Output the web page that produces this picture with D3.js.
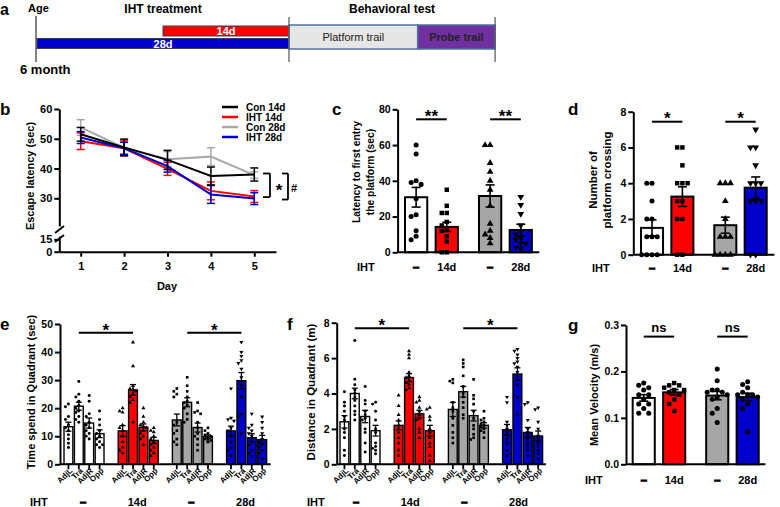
<!DOCTYPE html>
<html>
<head>
<meta charset="utf-8">
<script src="https://cdn.jsdelivr.net/npm/d3@7"></script>
<style>
html,body{margin:0;padding:0;background:#fff;}
svg{display:block;background:#fff;}
svg text{font-family:'Liberation Sans',Arial,Helvetica,sans-serif;}
</style>
</head>
<body>
<svg id="fig" width="780" height="507"></svg>
<script>
// ================= DATA =================
// panel a: timeline (days)
const treatLabels = ["28d", "14d"];
const treatStart = [0, 14];
const treatEnd = [28, 28];
const testLabels = ["Platform trail", "Probe trail"];
const testStart = [28, 42.3];
const testEnd = [42.3, 50.9];

// panel b: escape latency
const days = [1, 2, 3, 4, 5];
const seriesNames = ["Con 14d", "IHT 14d", "Con 28d", "IHT 28d"];
const latCon14 = [51.5, 47.1, 42.9, 37.5, 38.0];
const latIHT14 = [49.2, 46.8, 39.9, 32.5, 30.6];
const latCon28 = [53.8, 47.0, 43.1, 44.0, 37.8];
const latIHT28 = [50.4, 46.8, 40.8, 31.3, 29.9];
const semCon14 = [2.3, 2.8, 3.2, 3.0, 2.2];
const semIHT14 = [2.8, 2.5, 2.2, 3.0, 2.0];
const semCon28 = [2.6, 2.6, 2.6, 3.0, 1.1];
const semIHT28 = [2.0, 2.0, 2.0, 3.0, 2.0];
const bTicksUpper = [30, 40, 50, 60];
const bTicksLower = [0, 15];

// groups for c, d, e, f, g
const groups = ["Con 14d", "IHT 14d", "Con 28d", "IHT 28d"];
const ihtRow = ["–", "14d", "–", "28d"];
const quadrants = ["AdjL", "Tra", "AdjR", "Opp"];

// panel c: latency to first entry (sec)
const cMeans = [30.8, 14.2, 31.5, 12.5];
const cSems = [5.5, 2.6, 6.2, 3.2];
const cPtsCon14 = [60, 55, 40, 39, 38, 30, 21, 20, 12, 9, 7];
const cPtsIHT14 = [35, 26, 22, 22, 17, 15, 13, 12, 9, 6, 0, 0];
const cPtsCon28 = [60, 60, 50, 45, 40, 35, 26, 16, 12, 10, 8, 5];
const cPtsIHT28 = [31, 26.5, 21.5, 15, 12, 10, 8, 7, 5, 5, 3, 2];
const cTicks = [0, 20, 40, 60, 80];

// panel d: number of platform crossing
const dMeans = [1.5, 3.25, 1.65, 3.75];
const dSems = [0.45, 0.55, 0.45, 0.6];
const dPtsCon14 = [4, 4, 3, 2, 2, 1, 1, 1, 0, 0, 0, 0];
const dPtsIHT14 = [6, 6, 5, 4, 4, 4, 3, 3, 2, 2, 0, 0];
const dPtsCon28 = [4, 4, 4, 3, 2, 1, 1, 1, 0, 0, 0, 0];
const dPtsIHT28 = [7, 6, 6, 5, 4, 4, 4, 3, 3, 3, 0, 0];
const dTicks = [0, 2, 4, 6, 8];

// panel e: time spent in quadrant (sec)  [AdjL, Tra, AdjR, Opp]
const eMeanCon14 = [13.4, 20.7, 14.7, 10.9];
const eMeanIHT14 = [11.9, 26.5, 13.2, 8.5];
const eMeanCon28 = [15.8, 22.1, 13.1, 9.9];
const eMeanIHT28 = [11.9, 29.8, 9.5, 8.8];
const eSemCon14 = [1.6, 1.4, 1.8, 1.4];
const eSemIHT14 = [1.9, 1.9, 1.2, 1.1];
const eSemCon28 = [2.1, 1.6, 1.6, 0.6];
const eSemIHT28 = [1.7, 2.9, 1.4, 1.5];
const ePtsCon14 = [[21.5, 20.5, 17, 16, 14, 13, 12, 10.5, 9, 7.5, 6],
                   [29.5, 25, 24, 22.5, 21, 20, 19, 18.5, 17, 16, 15],
                   [24.5, 22.5, 18, 17, 15, 14, 13, 12, 11, 10, 9],
                   [19, 16, 14, 12, 11, 10, 9, 8, 7, 6, 7]];
const ePtsIHT14 = [[20, 19, 18.5, 14, 13, 12, 10, 8, 6, 5, 4],
                   [43.5, 35, 28, 27, 26.5, 26, 25, 24, 23, 22, 15],
                   [20, 17, 15, 14, 13.5, 13, 12, 11, 10, 9, 7],
                   [13, 12, 11.5, 10, 9, 8, 7, 6, 5, 4, 3]];
const ePtsCon28 = [[27, 26, 25, 24, 15, 14, 12, 11, 9, 8, 7],
                   [31, 28, 26, 24, 22.5, 22, 21, 20, 18, 16, 15],
                   [22, 19, 18.5, 18, 15, 13, 11, 10, 9, 7, 5],
                   [13, 12, 11, 10.5, 10, 9.5, 9, 9, 8.5, 8, 8]];
const ePtsIHT28 = [[27, 16.5, 16, 15.5, 13, 12, 10, 8, 6, 5, 3],
                   [43.5, 40, 38.5, 37, 36, 34, 31, 28, 24, 18, 11, 17],
                   [18, 14, 13, 12, 11, 10, 8, 7, 5, 4, 3],
                   [17, 15, 13, 11, 9, 8, 7, 6, 5, 4, 2]];
const eTicks = [0, 10, 20, 30, 40, 50];

// panel f: distance in quadrant (m)
const fMeanCon14 = [2.4, 4.0, 2.7, 1.9];
const fMeanIHT14 = [2.2, 4.9, 2.85, 1.9];
const fMeanCon28 = [3.1, 4.1, 2.75, 2.2];
const fMeanIHT28 = [1.95, 5.1, 1.8, 1.6];
const fSemCon14 = [0.35, 0.3, 0.35, 0.3];
const fSemIHT14 = [0.25, 0.22, 0.2, 0.3];
const fSemCon28 = [0.4, 0.3, 0.3, 0.15];
const fSemIHT28 = [0.3, 0.35, 0.28, 0.28];
const fPtsCon14 = [[4.1, 3.5, 3.3, 3.0, 2.7, 2.5, 2.0, 1.8, 1.5, 0.8, 0.5],
                   [7.0, 4.8, 4.5, 4.2, 4.0, 3.8, 3.6, 3.3, 3.0, 2.8, 2.5],
                   [4.4, 3.6, 3.4, 3.0, 2.8, 2.6, 2.5, 2.0, 1.8, 1.2, 0.7],
                   [3.5, 3.4, 3.0, 2.5, 2.0, 1.8, 1.2, 1.0, 0.9, 0.8, 0.6]];
const fPtsIHT14 = [[3.9, 3.3, 2.8, 2.5, 2.2, 2.0, 1.8, 1.5, 1.2, 0.8, 0.5],
                   [6.4, 6.2, 6.0, 5.2, 5.0, 4.9, 4.7, 4.6, 4.5, 4.3, 4.2],
                   [3.8, 3.6, 3.5, 3.2, 3.0, 2.8, 2.6, 2.5, 2.0, 1.8, 1.5],
                   [3.2, 3.1, 2.7, 2.5, 2.0, 1.8, 1.5, 1.2, 1.0, 0.5, 0.2]];
const fPtsCon28 = [[4.8, 4.7, 4.6, 3.5, 3.2, 3.0, 2.6, 2.2, 1.8, 1.5, 1.2],
                   [5.9, 5.7, 5.5, 5.0, 4.4, 4.0, 3.8, 3.5, 3.2, 2.8, 2.6],
                   [4.8, 3.9, 3.7, 3.4, 3.0, 2.6, 2.2, 2.0, 1.7, 1.5, 1.4],
                   [3.0, 2.6, 2.5, 2.4, 2.3, 2.2, 2.1, 2.0, 1.9, 1.8, 1.5]];
const fPtsIHT28 = [[3.8, 3.5, 2.4, 2.2, 2.0, 1.8, 1.6, 1.4, 1.2, 0.8, 0.5],
                   [6.5, 6.4, 6.2, 6.0, 5.8, 5.7, 5.5, 5.2, 4.5, 3.8, 2.8],
                   [3.5, 3.4, 2.5, 2.0, 1.8, 1.6, 1.4, 1.2, 1.0, 0.8, 0.5],
                   [3.2, 3.1, 2.4, 2.0, 1.6, 1.4, 1.2, 1.0, 0.8, 0.6, 0.3]];
const fTicks = [0, 2, 4, 6, 8];

// panel g: mean velocity (m/s)
const gMeans = [0.143, 0.155, 0.148, 0.145];
const gSems = [0.007, 0.006, 0.009, 0.008];
const gPtsCon14 = [0.17, 0.165, 0.16, 0.175, 0.15, 0.14, 0.13, 0.12, 0.11, 0.11, 0.13, 0.15];
const gPtsIHT14 = [0.175, 0.17, 0.17, 0.165, 0.16, 0.16, 0.155, 0.15, 0.14, 0.13, 0.115];
const gPtsCon28 = [0.205, 0.18, 0.16, 0.16, 0.155, 0.15, 0.145, 0.14, 0.12, 0.11, 0.09, 0.155];
const gPtsIHT28 = [0.178, 0.172, 0.165, 0.155, 0.15, 0.15, 0.145, 0.14, 0.13, 0.12, 0.07, 0.15];
const gTicks = [0, 0.1, 0.2, 0.3];

// ================= STYLE =================
const barFills = ["#ffffff", "#ff0000", "#a6a6a6", "#0000cd"];
const lineColors = ["#000000", "#ff0000", "#a9a9a9", "#0000cd"];

const svg = d3.select("#fig");

function T(sel, x, y, s, size, anchor = "start", weight = "bold", fill = "#000") {
  return sel.append("text").attr("x", x).attr("y", y).attr("font-size", size)
    .attr("font-weight", weight).attr("text-anchor", anchor).attr("fill", fill).text(s);
}
function L(sel, x1, y1, x2, y2, w = 2, c = "#000") {
  return sel.append("line").attr("x1", x1).attr("y1", y1).attr("x2", x2).attr("y2", y2)
    .attr("stroke", c).attr("stroke-width", w);
}
function VT(sel, x, cy, s, size) {
  return sel.append("text").attr("transform", `translate(${x},${cy}) rotate(-90)`)
    .attr("text-anchor", "middle").attr("font-size", size).attr("font-weight", "bold").text(s);
}
function styleAxis(g, fs) {
  g.attr("font-size", fs).attr("font-weight", "bold");
  g.select(".domain").attr("stroke", "#000").attr("stroke-width", 2);
  g.selectAll(".tick line").attr("stroke", "#000").attr("stroke-width", 2);
  g.selectAll(".tick text").attr("fill", "#000");
}
function sym(g, shape, x, y, size) {
  const type = shape === "circle" ? d3.symbolCircle : shape === "square" ? d3.symbolSquare : d3.symbolTriangle;
  g.append("path").attr("d", d3.symbol().type(type).size(size)())
    .attr("transform", `translate(${x},${y}) rotate(${shape === "invtri" ? 180 : 0})`)
    .attr("fill", "#000");
}
function swarm(vals, y, gap, maxOff) {
  const pts = vals.map(v => ({ v, py: y(v) })).sort((a, b) => a.py - b.py);
  const placed = [];
  pts.forEach(p => {
    let best = 0;
    for (let k = 0; k < 14; k++) {
      const off = k === 0 ? 0 : (k % 2 ? -1 : 1) * Math.ceil(k / 2) * gap;
      if (Math.abs(off) > maxOff) continue;
      const hit = placed.some(q => Math.abs(q.off - off) < gap * 0.95 && Math.abs(q.py - p.py) < gap * 0.95);
      if (!hit) { best = off; break; }
    }
    p.off = best; placed.push(p);
  });
  return pts;
}
function errBar(g, x, yA, yB, cap, w) {
  L(g, x, yA, x, yB, w);
  L(g, x - cap, yA, x + cap, yA, w);
  L(g, x - cap, yB, x + cap, yB, w);
}
function dashLabel(g, x, y, s, size) {
  const t = T(g, x, y, s, size, "middle");
  if (s === "–") t.attr("stroke", "#000").attr("stroke-width", 1.1);
  return t;
}

// ================= PANEL a =================
(function () {
  const g = svg.append("g");
  const xa = d3.scaleLinear().domain([0, 28]).range([37, 289]);
  T(g, 0, 15, "a", 16);
  T(g, 28, 12, "Age", 11);
  T(g, (xa(0) + xa(28)) / 2, 13, "IHT treatment", 12, "middle");
  T(g, (xa(testStart[0]) + xa(testEnd[1])) / 2, 13, "Behavioral test", 12, "middle");
  // treatment bars
  const barY = [38.5, 26];
  const barCol = ["#0000cd", "#ff0000"];
  treatLabels.forEach((lab, i) => {
    g.append("rect").attr("x", xa(treatStart[i])).attr("y", barY[i])
      .attr("width", xa(treatEnd[i]) - xa(treatStart[i])).attr("height", 10)
      .attr("fill", barCol[i]).attr("stroke", "#3a3a5a").attr("stroke-width", 1);
    T(g, (xa(treatStart[i]) + xa(treatEnd[i])) / 2, barY[i] + 9.3, lab, 11, "middle", "bold", "#fff");
  });
  // test phases
  const phFill = ["#e6e6e6", "#7030a0"];
  testLabels.forEach((lab, i) => {
    g.append("rect").attr("x", xa(testStart[i])).attr("y", 25)
      .attr("width", xa(testEnd[i]) - xa(testStart[i])).attr("height", 24)
      .attr("fill", phFill[i]).attr("stroke", "#50709f").attr("stroke-width", 1.5);
    T(g, (xa(testStart[i]) + xa(testEnd[i])) / 2, 41, lab, 11, "middle", i === 0 ? "normal" : "bold", "#222");
  });
  // vertical markers
  L(g, xa(0) - 1, 16, xa(0) - 1, 62, 1.2, "#333");
  L(g, xa(28), 17, xa(28), 62, 1.2, "#555");
  L(g, xa(testEnd[1]), 17, xa(testEnd[1]), 62, 1.2, "#555");
  T(g, 20, 74, "6 month", 13);
})();

// ================= PANEL b =================
(function () {
  const g = svg.append("g");
  const xb = d3.scaleLinear().domain([0.5, 5.5]).range([59, 276]);
  const yU = d3.scaleLinear().domain([20.7, 60]).range([226, 109]);
  const yL = d3.scaleLinear().domain([0, 19]).range([251.7, 236]);
  T(g, 0, 115, "b", 17);

  const series = [latCon14, latIHT14, latCon28, latIHT28];
  const sems = [semCon14, semIHT14, semCon28, semIHT28];
  const order = [2, 1, 3, 0];
  const line = d3.line().x((d, i) => xb(days[i])).y(d => yU(d));
  order.forEach(s => {
    g.append("path").attr("d", line(series[s])).attr("fill", "none")
      .attr("stroke", lineColors[s]).attr("stroke-width", 2);
    series[s].forEach((v, i) => {
      const x = xb(days[i]);
      const a = yU(v - sems[s][i]), b = yU(v + sems[s][i]);
      L(g, x, a, x, b, 1.5, lineColors[s]);
      L(g, x - 4, a, x + 4, a, 1.5, lineColors[s]);
      L(g, x - 4, b, x + 4, b, 1.5, lineColors[s]);
    });
  });

  // axes
  const ayU = g.append("g").attr("transform", "translate(59.3,0)")
    .call(d3.axisLeft(yU).tickValues(bTicksUpper).tickSize(5).tickPadding(2).tickSizeOuter(0));
  styleAxis(ayU, 11);
  const ayL = g.append("g").attr("transform", "translate(59.3,0)")
    .call(d3.axisLeft(yL).tickValues(bTicksLower).tickSize(5).tickPadding(2).tickSizeOuter(0));
  styleAxis(ayL, 11);
  // break marks
  L(g, 55, 233, 64, 226, 1.8);
  L(g, 55, 242, 64, 235, 1.8);
  const ax = g.append("g").attr("transform", "translate(0,251.7)")
    .call(d3.axisBottom(xb).tickValues(days).tickFormat(d3.format("d")).tickSize(5).tickPadding(6).tickSizeOuter(0));
  styleAxis(ax, 11);
  T(g, 167, 290, "Day", 11, "middle");
  VT(g, 34, 176, "Escape latency (sec)", 11);

  // legend
  const rows = [107, 117, 127, 137];
  seriesNames.forEach((n, i) => {
    L(g, 222, rows[i], 238, rows[i], 2.5, lineColors[i]);
    T(g, 246, rows[i] + 3.6, n, 10);
  });

  // significance brackets
  const b1 = [yU(38.0) - 1, yU(30.4)];
  L(g, 263, b1[0], 270, b1[0], 1.8); L(g, 270, b1[0], 270, b1[1], 1.8); L(g, 263, b1[1], 270, b1[1], 1.8);
  T(g, 279, 196, "*", 17, "middle");
  const b2 = [b1[0], yU(29.6)];
  L(g, 282, b2[0], 288, b2[0], 1.8); L(g, 288, b2[0], 288, b2[1], 1.8); L(g, 282, b2[1], 288, b2[1], 1.8);
  T(g, 291, 192, "#", 11);
})();

// ================= PANELS c, d, g =================
function barPanel(p) {
  const g = svg.append("g");
  const y = d3.scaleLinear().domain(p.yDomain).range(p.yRange);
  const xo = d3.scaleBand().domain(["14d", "28d"]).range([p.x0, p.x1]).paddingInner(0.285).paddingOuter(p.outer);
  const xi = d3.scaleBand().domain(["con", "iht"]).range([0, xo.bandwidth()]).paddingInner(0.274);
  const bw = xi.bandwidth();
  const left = i => xo(i < 2 ? "14d" : "28d") + xi(i % 2 ? "iht" : "con");
  const cx = i => left(i) + bw / 2;
  const y0 = y(0);
  groups.forEach((n, i) => {
    g.append("rect").attr("x", left(i)).attr("y", y(p.means[i])).attr("width", bw)
      .attr("height", y0 - y(p.means[i])).attr("fill", barFills[i])
      .attr("stroke", "#000").attr("stroke-width", 2);
  });
  groups.forEach((n, i) => {
    swarm(p.points[i], y, p.gap, bw / 2).forEach(pt => sym(g, p.shapes[i], cx(i) + pt.off, pt.py, p.msize));
  });
  groups.forEach((n, i) => {
    errBar(g, cx(i), y(p.means[i] - p.sems[i]), y(p.means[i] + p.sems[i]), 4.5, 1.6);
  });
  L(g, p.x0, y0, p.x1, y0, 2);
  const ay = g.append("g").attr("transform", `translate(${p.x0},0)`)
    .call(d3.axisLeft(y).tickValues(p.ticks).tickFormat(p.fmt).tickSize(5).tickPadding(2).tickSizeOuter(0));
  styleAxis(ay, 10.5);
  // significance
  [[0, 1], [2, 3]].forEach(([a, b]) => {
    const ly = y(p.sigVal);
    L(g, cx(a), ly, cx(b), ly, 2);
    if (p.sig === "ns") T(g, (cx(a) + cx(b)) / 2, ly - 5, "ns", 13, "middle");
    else T(g, (cx(a) + cx(b)) / 2, ly + 2.5, p.sig, 17, "middle");
  });
  // x labels
  T(g, p.ihtX, p.ihtY, "IHT", 11);
  groups.forEach((n, i) => dashLabel(g, cx(i), p.ihtY, ihtRow[i], 11));
  // titles
  p.title.forEach((t, k) => VT(g, p.titleX[k], p.titleY, t, p.titleSize));
  T(g, p.letterX, p.letterY, p.letter, 17);
}

barPanel({
  letter: "c", letterX: 332, letterY: 115,
  x0: 397.6, x1: 539.3, outer: 0.1,
  yDomain: [0, 80], yRange: [252.3, 109.3], ticks: cTicks, fmt: d3.format("d"),
  means: cMeans, sems: cSems, points: [cPtsCon14, cPtsIHT14, cPtsCon28, cPtsIHT28],
  shapes: ["circle", "square", "triangle", "invtri"], gap: 5, msize: 20,
  sig: "**", sigVal: 74.4,
  ihtX: 357, ihtY: 271,
  title: ["Latency to first entry", "the platform (sec)"], titleX: [360, 374], titleY: 172, titleSize: 10.3
});
barPanel({
  letter: "d", letterX: 568, letterY: 115,
  x0: 633.3, x1: 774.4, outer: 0.105,
  yDomain: [0, 8], yRange: [254.7, 111.7], ticks: dTicks, fmt: d3.format("d"),
  means: dMeans, sems: dSems, points: [dPtsCon14, dPtsIHT14, dPtsCon28, dPtsIHT28],
  shapes: ["circle", "square", "triangle", "invtri"], gap: 5.2, msize: 20,
  sig: "*", sigVal: 7.44,
  ihtX: 592, ihtY: 272,
  title: ["Number of", "platform crossing"], titleX: [597, 611], titleY: 180, titleSize: 11.5
});
barPanel({
  letter: "g", letterX: 568, letterY: 331,
  x0: 626, x1: 765.4, outer: 0.091,
  yDomain: [0, 0.3], yRange: [464.3, 325], ticks: gTicks, fmt: d3.format(".1f"),
  means: gMeans, sems: gSems, points: [gPtsCon14, gPtsIHT14, gPtsCon28, gPtsIHT28],
  shapes: ["circle", "square", "circle", "circle"], gap: 5, msize: 20,
  sig: "ns", sigVal: 0.275,
  ihtX: 585, ihtY: 484,
  title: ["Mean Velocity (m/s)"], titleX: [598], titleY: 395, titleSize: 11
});

// ================= PANELS e, f =================
function quadPanel(p) {
  const g = svg.append("g");
  const y = d3.scaleLinear().domain(p.yDomain).range(p.yRange);
  const xo = d3.scaleBand().domain(groups).range([p.x0, p.x1]).paddingInner(0.262).paddingOuter(p.outer);
  const xi = d3.scaleBand().domain(quadrants).range([0, xo.bandwidth()]).paddingInner(0.15);
  const bw = xi.bandwidth();
  const left = (gi, qi) => xo(groups[gi]) + xi(quadrants[qi]);
  const cx = (gi, qi) => left(gi, qi) + bw / 2;
  const y0 = y(0);
  groups.forEach((n, gi) => quadrants.forEach((q, qi) => {
    const m = p.means[gi][qi];
    g.append("rect").attr("x", left(gi, qi)).attr("y", y(m)).attr("width", bw)
      .attr("height", y0 - y(m)).attr("fill", barFills[gi])
      .attr("stroke", "#000").attr("stroke-width", 1.4);
  }));
  groups.forEach((n, gi) => quadrants.forEach((q, qi) => {
    swarm(p.points[gi][qi], y, 3, bw / 2).forEach(pt => sym(g, p.shapes[gi], cx(gi, qi) + pt.off, pt.py, 7));
  }));
  groups.forEach((n, gi) => quadrants.forEach((q, qi) => {
    const m = p.means[gi][qi], s = p.sems[gi][qi];
    errBar(g, cx(gi, qi), y(m - s), y(m + s), 3, 1.3);
  }));
  // x axis, ticks, rotated labels
  L(g, p.x0, y0, p.x1, y0, 2);
  groups.forEach((n, gi) => quadrants.forEach((q, qi) => {
    const x = cx(gi, qi);
    L(g, x, y0, x, y0 + 5, 1.8);
    g.append("text").attr("transform", `translate(${x + 4.5},${y0 + 7}) rotate(-45)`)
      .attr("text-anchor", "end").attr("font-size", 8).attr("font-weight", "bold").text(q);
  }));
  const ay = g.append("g").attr("transform", `translate(${p.x0},0)`)
    .call(d3.axisLeft(y).tickValues(p.ticks).tickSize(5).tickPadding(2).tickSizeOuter(0));
  styleAxis(ay, 10.5);
  // significance: Tra of control vs Tra of IHT
  [[0, 1], [2, 3]].forEach(([a, b]) => {
    const ly = y(p.sigVal);
    L(g, cx(a, 1), ly, cx(b, 1), ly, 2);
    T(g, (cx(a, 1) + cx(b, 1)) / 2, ly + 3, "*", 17, "middle");
  });
  // group labels
  T(g, p.ihtX, 506, "IHT", 11);
  groups.forEach((n, gi) => dashLabel(g, xo(n) + xo.bandwidth() / 2 + p.labDx, 506, ihtRow[gi], 11));
  VT(g, p.titleX, p.titleY, p.title, p.titleSize);
  T(g, p.letterX, p.letterY, p.letter, 17);
}

quadPanel({
  letter: "e", letterX: 0, letterY: 330,
  x0: 60, x1: 270.6, outer: 0.074,
  yDomain: [0, 50], yRange: [464.3, 324], ticks: eTicks,
  means: [eMeanCon14, eMeanIHT14, eMeanCon28, eMeanIHT28],
  sems: [eSemCon14, eSemIHT14, eSemCon28, eSemIHT28],
  points: [ePtsCon14, ePtsIHT14, ePtsCon28, ePtsIHT28],
  shapes: ["circle", "triangle", "square", "invtri"],
  sigVal: 46.9, ihtX: 30, labDx: -1,
  title: "Time spend in Quadrant (sec)", titleX: 35, titleY: 392, titleSize: 11
});
quadPanel({
  letter: "f", letterX: 287, letterY: 330,
  x0: 336.7, x1: 545.9, outer: 0.061,
  yDomain: [0, 8], yRange: [464.3, 322.7], ticks: fTicks,
  means: [fMeanCon14, fMeanIHT14, fMeanCon28, fMeanIHT28],
  sems: [fSemCon14, fSemIHT14, fSemCon28, fSemIHT28],
  points: [fPtsCon14, fPtsIHT14, fPtsCon28, fPtsIHT28],
  shapes: ["circle", "triangle", "square", "invtri"],
  sigVal: 7.68, ihtX: 307, labDx: -4,
  title: "Distance in Quadrant (m)", titleX: 315, titleY: 392, titleSize: 11.5
});
</script>
</body>
</html>
